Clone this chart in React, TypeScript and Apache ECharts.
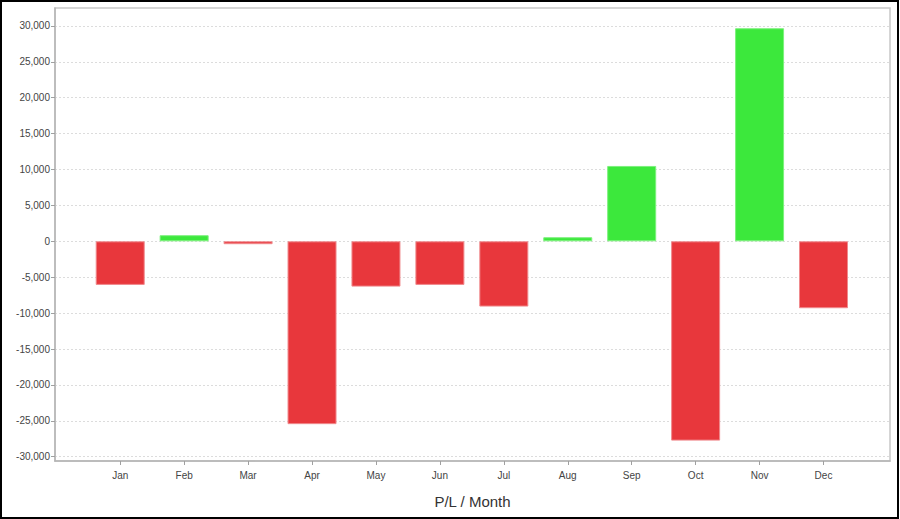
import React, { useEffect, useRef } from "react";
import * as echarts from "echarts";

const months = ["Jan", "Feb", "Mar", "Apr", "May", "Jun", "Jul", "Aug", "Sep", "Oct", "Nov", "Dec"];
const profitLoss = [-6070, 850, -400, -25470, -6310, -6070, -9090, 570, 10500, -27760, 29680, -9320];
const yTicks = [-30000, -25000, -20000, -15000, -10000, -5000, 0, 5000, 10000, 15000, 20000, 25000, 30000];
const xTitle = "P/L / Month";

const GAIN = "#3ce83c";
const LOSS = "#e8373c";

export default function App() {
  const ref = useRef<HTMLDivElement>(null);
  useEffect(() => {
    if (!ref.current) return;
    const chart = echarts.init(ref.current, null, { renderer: "svg" });
    const idx = months.map((_, i) => i);
    chart.setOption({
      animation: false,
      backgroundColor: "#ffffff",
      grid: {
        left: 55,
        right: 10,
        top: 8,
        bottom: 58,
        show: true,
        borderColor: "#c8c8c8",
        borderWidth: 1.5,
        containLabel: false,
        outerBoundsMode: "none",
      },
      xAxis: {
        type: "value",
        min: -1.02,
        max: 12.04,
        name: xTitle,
        nameLocation: "middle",
        nameGap: 33,
        nameTextStyle: { fontFamily: "Liberation Sans", fontSize: 15, color: "#333333" },
        axisLine: { show: true, onZero: false, lineStyle: { color: "#b4b4b4", width: 1.5 } },
        axisTick: { show: true, length: 4, customValues: idx, lineStyle: { color: "#a0a0a0" } },
        axisLabel: {
          customValues: idx,
          formatter: (v: number) => months[Math.round(v)] ?? "",
          fontFamily: "Liberation Sans",
          fontSize: 10,
          color: "#444444",
          margin: 9,
        },
        splitLine: { show: false },
      },
      yAxis: {
        type: "value",
        min: -30600,
        max: 32500,
        axisLine: { show: true, onZero: false, lineStyle: { color: "#b4b4b4", width: 1.5 } },
        axisTick: { show: true, length: 4, customValues: yTicks, lineStyle: { color: "#a0a0a0" } },
        axisLabel: {
          customValues: yTicks,
          formatter: (v: number) => v.toLocaleString("en-US"),
          fontFamily: "Liberation Sans",
          fontSize: 10,
          color: "#444444",
          margin: 5,
        },
        splitLine: { show: true, lineStyle: { color: "#dcdcdc", type: [2, 2], width: 1 } },
      },
      series: [
        {
          type: "bar",
          barWidth: 49,
          data: profitLoss.map((v, i) => ({
            value: [i, v],
            itemStyle: {
              color: v >= 0 ? GAIN : LOSS,
              borderColor: v >= 0 ? "#7cf07c" : "#f08a8d",
              borderWidth: 1,
            },
          })),
        },
      ],
    });
    return () => chart.dispose();
  }, []);
  return (
    <div style={{ position: "absolute", left: 0, top: 0, width: 900, height: 519 }}>
      <div ref={ref} style={{ position: "absolute", left: 0, top: 0, width: 900, height: 519 }} />
      <div
        style={{
          position: "absolute",
          left: 0,
          top: 0,
          width: 899,
          height: 519,
          boxSizing: "border-box",
          border: "2px solid #000",
          pointerEvents: "none",
        }}
      />
    </div>
  );
}
